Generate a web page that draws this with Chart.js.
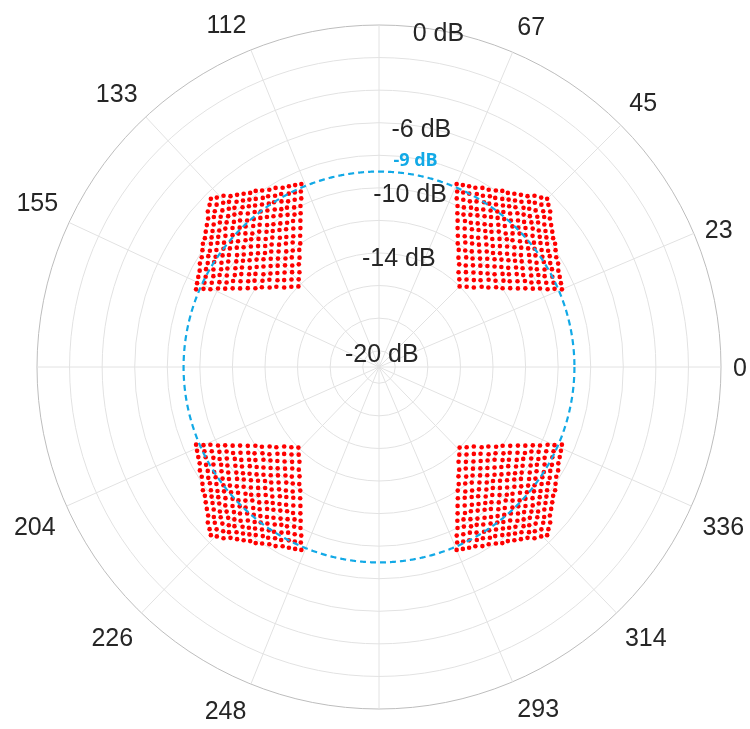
<!DOCTYPE html>
<html>
<head>
<meta charset="utf-8">
<title>Beam levels</title>
<script src="https://cdn.jsdelivr.net/npm/chart.js@4.4.1/dist/chart.umd.min.js"></script>
<style>
  html, body { margin: 0; padding: 0; background: #ffffff; }
  canvas { display: block; }
</style>
</head>
<body>
<canvas id="polar" width="750" height="729"></canvas>
<script>
// angular grid: 16 spokes, no text on 90 / 180 / 270
const spokeAngles = [0, 23, 45, 67, 90, 112, 133, 155, 180, 204, 226, 248, 270, 293, 314, 336];
const spokeLabels = ["0", "23", "45", "67", "", "112", "133", "155", "", "204", "226", "248", "", "293", "314", "336"];

// radial axis (dB)
const ringLevels = [-20, -18, -16, -14, -12, -10, -8, -6, -4, -2, 0];
const ringLabels = [-20, -14, -10, -6, 0];
const thresholdDb = -9;

// beam grid in the first quadrant, 15 x 15 points: angle (deg)
const quadAngle = [
  [45.0, 42.4, 40.1, 37.9, 36.0, 34.2, 32.5, 30.9, 29.5, 28.2, 27.0, 25.9, 24.8, 23.9, 23.0],
  [47.6, 45.0, 42.6, 40.4, 38.4, 36.6, 34.8, 33.2, 31.7, 30.4, 29.1, 27.9, 26.8, 25.8, 24.8],
  [49.9, 47.4, 45.0, 42.8, 40.7, 38.8, 37.1, 35.4, 33.9, 32.5, 31.1, 29.9, 28.7, 27.6, 26.6],
  [52.1, 49.6, 47.2, 45.0, 42.9, 41.0, 39.2, 37.5, 36.0, 34.5, 33.1, 31.8, 30.6, 29.4, 28.3],
  [54.0, 51.6, 49.3, 47.1, 45.0, 43.1, 41.2, 39.5, 37.9, 36.4, 35.0, 33.6, 32.4, 31.2, 30.1],
  [55.8, 53.4, 51.2, 49.0, 46.9, 45.0, 43.2, 41.4, 39.8, 38.3, 36.8, 35.4, 34.1, 32.9, 31.7],
  [57.5, 55.2, 52.9, 50.8, 48.8, 46.8, 45.0, 43.3, 41.6, 40.0, 38.6, 37.2, 35.8, 34.6, 33.4],
  [59.1, 56.8, 54.6, 52.5, 50.5, 48.6, 46.7, 45.0, 43.4, 41.8, 40.3, 38.8, 37.5, 36.2, 35.0],
  [60.5, 58.3, 56.1, 54.0, 52.1, 50.2, 48.4, 46.6, 45.0, 43.4, 41.9, 40.5, 39.1, 37.8, 36.5],
  [61.8, 59.6, 57.5, 55.5, 53.6, 51.7, 50.0, 48.2, 46.6, 45.0, 43.5, 42.0, 40.6, 39.3, 38.1],
  [63.0, 60.9, 58.9, 56.9, 55.0, 53.2, 51.4, 49.7, 48.1, 46.5, 45.0, 43.5, 42.2, 40.8, 39.5],
  [64.1, 62.1, 60.1, 58.2, 56.4, 54.6, 52.8, 51.2, 49.5, 48.0, 46.5, 45.0, 43.6, 42.3, 41.0],
  [65.2, 63.2, 61.3, 59.4, 57.6, 55.9, 54.2, 52.5, 50.9, 49.4, 47.8, 46.4, 45.0, 43.6, 42.3],
  [66.1, 64.2, 62.4, 60.6, 58.8, 57.1, 55.4, 53.8, 52.2, 50.7, 49.2, 47.7, 46.4, 45.0, 43.7],
  [67.0, 65.2, 63.4, 61.7, 59.9, 58.3, 56.6, 55.0, 53.5, 51.9, 50.5, 49.0, 47.7, 46.3, 45.0]
];

// same grid: level (dB)
const quadDb = [
  [-14.0, -13.7, -13.4, -13.0, -12.7, -12.3, -12.0, -11.6, -11.2, -10.8, -10.4, -10.0, -9.6, -9.2, -8.8],
  [-13.7, -13.4, -13.1, -12.8, -12.4, -12.1, -11.7, -11.4, -11.0, -10.6, -10.3, -9.9, -9.5, -9.1, -8.7],
  [-13.4, -13.1, -12.8, -12.5, -12.2, -11.9, -11.5, -11.2, -10.8, -10.5, -10.1, -9.7, -9.4, -9.0, -8.6],
  [-13.0, -12.8, -12.5, -12.2, -11.9, -11.6, -11.3, -11.0, -10.6, -10.3, -9.9, -9.6, -9.2, -8.8, -8.5],
  [-12.7, -12.4, -12.2, -11.9, -11.6, -11.3, -11.0, -10.7, -10.4, -10.1, -9.7, -9.4, -9.0, -8.7, -8.3],
  [-12.3, -12.1, -11.9, -11.6, -11.3, -11.1, -10.8, -10.5, -10.2, -9.9, -9.5, -9.2, -8.9, -8.5, -8.2],
  [-12.0, -11.7, -11.5, -11.3, -11.0, -10.8, -10.5, -10.2, -9.9, -9.6, -9.3, -9.0, -8.7, -8.4, -8.0],
  [-11.6, -11.4, -11.2, -11.0, -10.7, -10.5, -10.2, -9.9, -9.7, -9.4, -9.1, -8.8, -8.5, -8.2, -7.8],
  [-11.2, -11.0, -10.8, -10.6, -10.4, -10.2, -9.9, -9.7, -9.4, -9.1, -8.9, -8.6, -8.3, -8.0, -7.7],
  [-10.8, -10.6, -10.5, -10.3, -10.1, -9.9, -9.6, -9.4, -9.1, -8.9, -8.6, -8.3, -8.1, -7.8, -7.5],
  [-10.4, -10.3, -10.1, -9.9, -9.7, -9.5, -9.3, -9.1, -8.9, -8.6, -8.4, -8.1, -7.8, -7.6, -7.3],
  [-10.0, -9.9, -9.7, -9.6, -9.4, -9.2, -9.0, -8.8, -8.6, -8.3, -8.1, -7.9, -7.6, -7.3, -7.1],
  [-9.6, -9.5, -9.4, -9.2, -9.0, -8.9, -8.7, -8.5, -8.3, -8.1, -7.8, -7.6, -7.4, -7.1, -6.8],
  [-9.2, -9.1, -9.0, -8.8, -8.7, -8.5, -8.4, -8.2, -8.0, -7.8, -7.6, -7.3, -7.1, -6.9, -6.6],
  [-8.8, -8.7, -8.6, -8.5, -8.3, -8.2, -8.0, -7.8, -7.7, -7.5, -7.3, -7.1, -6.8, -6.6, -6.4]
];

// the pattern repeats mirrored in the other three quadrants
const quadrantMaps = [(a) => a, (a) => 180 - a, (a) => 180 + a, (a) => 360 - a];

// the radar scale only places points on its labels, so use fine angle slots
const STEP = 0.25;
const N = 360 / STEP;
// slot 0 sits at east, slots run clockwise -> angle = 360 - k * STEP
const slotAngles = Array.from({ length: N }, (_, k) => (360 - k * STEP) % 360);
const slotOf = (deg) => Math.round((((360 - deg) % 360) + 360) % 360 / STEP) % N;
const spokeSlots = new Set(spokeAngles.map(slotOf));

// pack the dots into as few datasets as possible (one value per slot each)
let dotRows = [];
quadrantMaps.forEach((map) => {
  quadAngle.forEach((row, i) => {
    row.forEach((deg, j) => {
      const k = slotOf(map(deg));
      let set = dotRows.find((s) => s[k] === null);
      if (!set) {
        set = new Array(N).fill(null);
        dotRows.push(set);
      }
      set[k] = quadDb[i][j];
    });
  });
});

const TEXT = "#262626";
const GRID = "#E2E2E2";
const BLUE = "#12A9E6";
const LABEL_FONT = '"Liberation Sans", Arial, sans-serif';
const RAD = Math.PI / 180;

// axis text: angle labels hang off the rim, dB labels upright along 80 deg
const axisText = {
  id: "axisText",
  afterDraw(chart) {
    const r = chart.scales.r;
    const ctx = chart.ctx;
    ctx.save();
    ctx.textBaseline = "alphabetic";
    ctx.font = "25px " + LABEL_FONT;
    ctx.fillStyle = TEXT;

    spokeAngles.forEach((deg, i) => {
      const txt = spokeLabels[i];
      if (!txt) return;
      const c = Math.cos(deg * RAD);
      const s = Math.sin(deg * RAD);
      const p = r.getPointPosition(slotOf(deg), r.drawingArea + 12);
      ctx.textAlign = Math.abs(c) < 1e-6 ? "center" : c > 0 ? "left" : "right";
      // near-horizontal labels stay centred, the rest sit above / below the anchor
      const dy = Math.abs(s) < 0.4 ? 0 : s > 0 ? -15 : 15;
      ctx.fillText(txt, p.x, p.y + dy + 9);
    });

    ctx.textAlign = "center";
    const a = 80 * RAD;
    ringLabels.forEach((v) => {
      const d = r.getDistanceFromCenterForValue(v);
      ctx.fillText(v + " dB", r.xCenter + d * Math.cos(a), r.yCenter - d * Math.sin(a) + 11);
    });

    // threshold tag just outside its circle
    const d9 = r.getDistanceFromCenterForValue(thresholdDb) + 15;
    ctx.font = 'bold 18px "Open Sans", "Liberation Sans", sans-serif';
    ctx.fillStyle = BLUE;
    ctx.fillText(thresholdDb + " dB", r.xCenter + d9 * Math.cos(a), r.yCenter - d9 * Math.sin(a) + 6);
    ctx.restore();
  },
};

const datasets = [
  {
    label: "threshold",
    data: new Array(N).fill(thresholdDb),
    borderColor: BLUE,
    borderWidth: 2.2,
    borderDash: [6, 4],
    pointRadius: 0,
    fill: false,
  },
].concat(
  dotRows.map((data, i) => ({
    label: "beams " + i,
    data: data,
    showLine: false,
    fill: false,
    pointRadius: 2.3,
    pointBorderWidth: 0,
    pointBackgroundColor: "#FF0000",
    pointHoverRadius: 0,
  }))
);

new Chart(document.getElementById("polar"), {
  type: "radar",
  data: { labels: slotAngles, datasets: datasets },
  plugins: [axisText],
  options: {
    responsive: false,
    animation: false,
    events: [],
    layout: { padding: { left: 37, right: 29, top: 25, bottom: 20 } },
    plugins: { legend: { display: false }, tooltip: { enabled: false } },
    scales: {
      r: {
        min: -21,
        max: 0,
        startAngle: 90,
        afterBuildTicks: (scale) => {
          scale.ticks = ringLevels.map((v) => ({ value: v }));
        },
        ticks: { display: false },
        grid: {
          circular: true,
          color: (c) => (c.tick && c.tick.value === 0 ? "#BDBDBD" : GRID),
          lineWidth: 1,
        },
        angleLines: {
          color: GRID,
          lineWidth: (c) => (spokeSlots.has(c.index) ? 1 : 0),
        },
        pointLabels: { display: false },
      },
    },
  },
});
</script>
</body>
</html>
